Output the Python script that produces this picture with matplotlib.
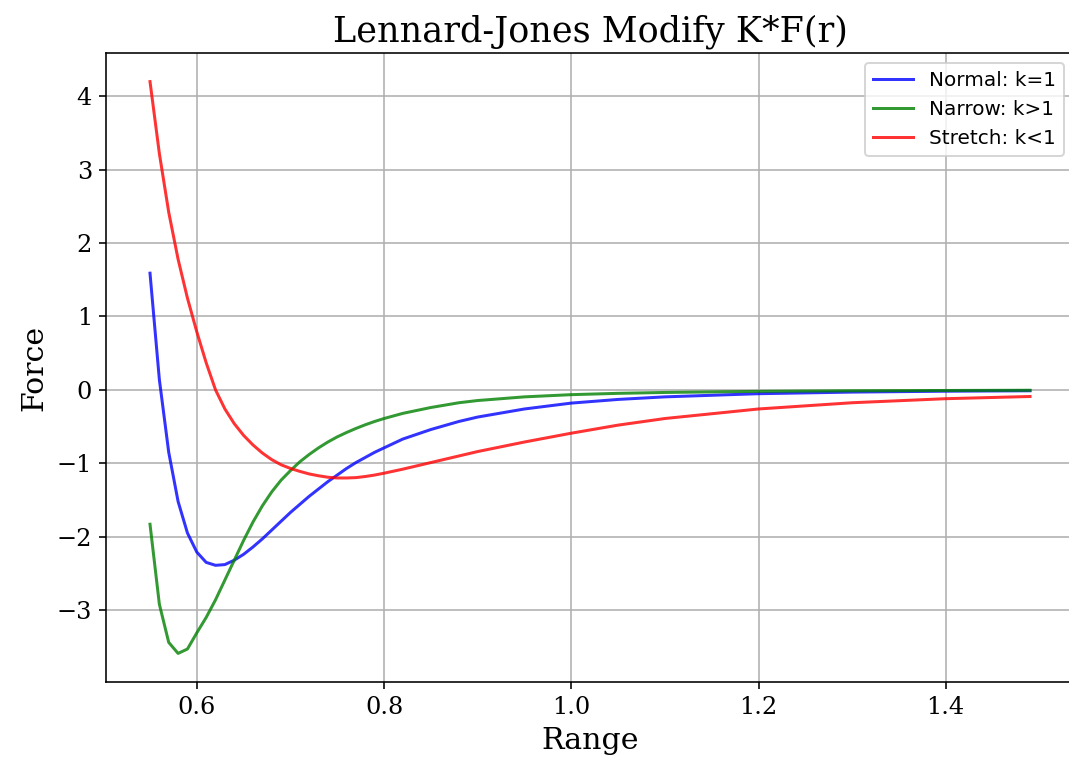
import numpy as np
import matplotlib.pyplot as plt

# values
r = [0.55, 0.56, 0.57, 0.58, 0.59, 0.60, 0.61, 0.62, 0.63, 0.64,
     0.65, 0.66, 0.67, 0.68, 0.69, 0.70, 0.71, 0.72, 0.73, 0.74,
     0.75, 0.76, 0.77, 0.78, 0.79, 0.80, 0.82, 0.85, 0.88, 0.90,
     0.95, 1.00, 1.05, 1.10, 1.20, 1.30, 1.40, 1.49]

normal = [1.59, 0.14, -0.85, -1.52, -1.95, -2.21, -2.35, -2.39, -2.38, -2.32,
          -2.24, -2.14, -2.03, -1.91, -1.79, -1.67, -1.56, -1.45, -1.35, -1.25,
          -1.16, -1.07, -0.99, -0.92, -0.85, -0.79, -0.67, -0.54, -0.43, -0.37,
          -0.26, -0.18, -0.13, -0.095, -0.052, -0.03, -0.018, -0.012]

narrow = [-1.83, -2.92, -3.44, -3.59, -3.53, -3.31, -3.10, -2.86, -2.59, -2.32,
          -2.05, -1.80, -1.58, -1.39, -1.23, -1.10, -0.98, -0.88, -0.79, -0.71,
          -0.64, -0.58, -0.525, -0.475, -0.43, -0.39, -0.32, -0.24, -0.175, -0.145,
          -0.095, -0.065, -0.047, -0.035, -0.02, -0.012, -0.008, -0.005]

stretch = [4.20, 3.22, 2.42, 1.78, 1.25, 0.79, 0.37, 0.0, -0.26, -0.46,
           -0.62, -0.75, -0.86, -0.95, -1.02, -1.07, -1.11, -1.145, -1.17, -1.19,
           -1.20, -1.20, -1.195, -1.18, -1.16, -1.135, -1.08, -0.99, -0.90, -0.84,
           -0.71, -0.59, -0.48, -0.39, -0.26, -0.175, -0.12, -0.09]

fig = plt.figure(figsize=(1069/144, 765/144), dpi=144)
ax = fig.add_axes([106/1069, 1-682/765, 968/1069, 629/765])

ax.plot(r, normal, color="blue", alpha=0.8, label="Normal: k=1")
ax.plot(r, narrow, color="green", alpha=0.8, label="Narrow: k>1")
ax.plot(r, stretch, color="red", alpha=0.8, label="Stretch: k<1")

ax.set_title("Lennard-Jones Modify K*F(r)", family="DejaVu Serif", fontsize=17.5)
ax.set_xlabel("Range", family="DejaVu Serif", fontsize=15)
ax.set_ylabel("Force", family="DejaVu Serif", fontsize=15)
for lab in ax.get_xticklabels() + ax.get_yticklabels():
    lab.set_family("DejaVu Serif")
ax.tick_params(labelsize=12)
ax.grid(True)
ax.legend(loc="upper right")

fig.savefig("out.png", dpi=144)
